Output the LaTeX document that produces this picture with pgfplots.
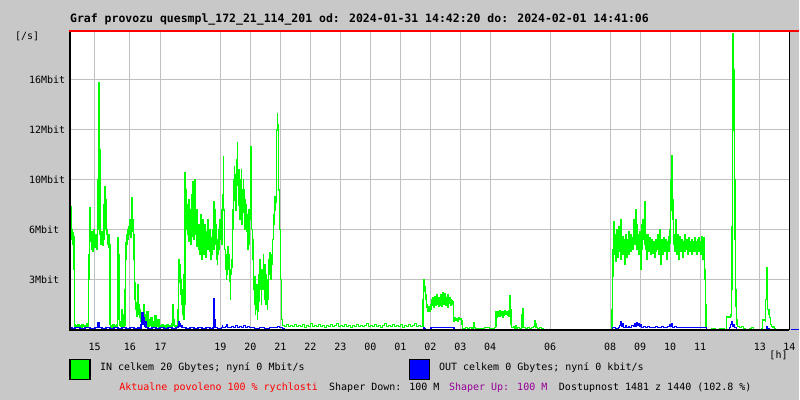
\documentclass[border=0pt]{standalone}
\usepackage{pgfplots}
\pgfplotsset{compat=1.18}
\usepackage{fontspec}
\setmainfont{DejaVu Sans Mono}
\definecolor{bggray}{RGB}{200,200,200}
\definecolor{gridgray}{RGB}{192,192,192}
\definecolor{ingreen}{RGB}{0,255,0}
\definecolor{outblue}{RGB}{0,0,255}
\definecolor{upviolet}{RGB}{150,0,150}
\begin{document}
\begin{tikzpicture}[x=1bp,y=1bp,font=\fontsize{10bp}{12bp}\selectfont]
\fill[bggray] (0,0) rectangle (800,400);
\begin{axis}[
  at={(70,70)}, anchor=south west,
  width=720bp, height=300bp, scale only axis,
  xmin=70, xmax=790, ymin=0, ymax=300,
  axis background/.style={fill=white},
  axis line style={draw=none},
  major tick length=0pt,
  xtick={94.7,130,160.7,220.7,250.7,280.7,310.7,340.7,370.7,400.7,430.7,460.7,490.7,550.7,610.7,640.7,670.7,700.7,760.7,790},
  xticklabels={15,16,17,19,20,21,22,23,00,01,02,03,04,06,08,09,10,11,13,14},
  ytick={50,100,150,200,250},
  yticklabels={3Mbit,6Mbit,10Mbit,12Mbit,16Mbit},
  xticklabel style={anchor=center, inner sep=0pt, yshift=-17.3bp, font=\fontsize{10bp}{12bp}\selectfont},
  yticklabel style={anchor=west, inner sep=0pt, xshift=-41bp, font=\fontsize{10bp}{12bp}\selectfont},
  grid=major,
  major grid style={gridgray, line width=1bp},
  clip=true,
]
\addplot[const plot, ingreen, line width=1.4bp] coordinates {
(70.5,95) (71,123) (71.5,90) (72,100) (72.5,85) (73,97) (73.5,93) (74,60) (74.5,5) (75,3) (76,4) (77,2) (78,5) (79,3) (80,4) (81,2) (82,5) (83,3) (84,4) (85,2) (86,3) (87,6) (88,3)
(88.3,5) (88.5,50) (89,75) (89.5,122) (90,100) (90.5,88) (91,95) (91.5,80) (92,98) (92.5,78) (93,88) (93.5,100) (94,92) (94.5,82) (95,90) (95.5,84) (96,95) (96.5,80) (97,88) (97.5,100)
(98,150) (98.5,247) (99,240) (99.5,180) (100,95)
(100.5,85) (101,92) (101.5,88) (102,98) (102.5,84) (103,95) (103.5,90) (104,125) (104.5,110) (105,143) (105.5,100) (106,130) (106.5,95) (107,100) (107.5,85)
(108,90) (108.5,82) (109,95) (109.5,85) (110,5)
(110.5,3) (111,4) (112,2) (113,5) (114,3) (115,4) (116,2) (117,5)
(117.5,60) (118,92) (118.5,75) (119,10)
(119.5,4) (120,8) (121,3) (122,20) (122.5,5) (123,3) (124,15) (124.5,4)
(125,40) (125.5,70) (126,87) (126.5,95) (127,85) (127.5,100) (128,90) (128.5,103) (129,95) (129.5,110) (130,100) (130.5,92) (131,105) (131.5,98) (132,132) (132.5,110) (133,103) (133.5,95)
(134,70) (134.5,47) (135,30) (135.5,20) (136,27) (136.5,13) (137,22) (137.5,15) (138,45) (138.5,25) (139,18) (139.5,12)
(140,20) (140.5,8) (141,15) (142,5) (143,10) (143.5,25) (144,8) (145,15) (146,5) (147,18) (148,3) (149,10) (150,4) (151,12) (152,3) (153,8) (154,2) (155,14) (156,4) (157,3) (158,10) (159,2) (160,4)
(161,3) (162,5) (163,2) (164,4) (165,3) (166,2) (167,5) (168,3) (169,2) (170,4) (171,3) (172,6) (173,25) (173.5,10) (174,4) (175,3) (176,2) (177,4)
(178,20) (178.5,47) (179,70) (179.5,55) (180,65) (180.5,35) (181,50) (181.5,25) (182,40) (182.5,15) (183,30) (183.5,10) (184,55) (184.5,25)
(185,157) (185.5,120) (186,140) (186.5,100) (187,125) (187.5,95) (188,115) (188.5,88) (189,130) (189.5,105) (190,110) (190.5,85) (191,120) (191.5,93) (192,135) (192.5,100) (193,148) (193.5,115) (194,90) (194.5,125) (195,150) (195.5,95) (196,110) (196.5,83) (197,120) (197.5,90) (198,100) (198.5,80) (199,105) (199.5,75)
(200,95) (200.5,115) (201,85) (201.5,70) (202,100) (202.5,80) (203,110) (203.5,88) (204,75) (204.5,95) (205,105) (205.5,82) (206,72) (206.5,98) (207,88) (207.5,110) (208,80) (208.5,95) (209,85) (209.5,100) (210,78) (210.5,92) (211,70) (211.5,86) (212,75) (212.5,90) (213,100) (213.5,80)
(214,128) (214.5,95) (215,120) (215.5,85) (216,105) (216.5,70)
(217,85) (217.5,65) (218,90) (218.5,75) (219,100) (219.5,80) (220,110) (220.5,90)
(221,95) (221.5,120) (222,85) (222.5,105) (223,135) (223.5,173) (224,120) (224.5,90)
(225,80) (225.5,60) (226,75) (226.5,50) (227,70) (227.5,55) (228,83) (228.5,60) (229,75) (229.5,48) (230,60) (230.5,30) (231,55) (231.5,70) (232,62) (232.5,80)
(233,120) (233.5,100) (234,150) (234.5,163) (235,130) (235.5,155) (236,120) (236.5,170) (237,145) (237.5,187) (238,150) (238.5,125) (239,160) (239.5,135)
(240,110) (240.5,150) (241,130) (241.5,160) (242,105) (242.5,140) (243,125) (243.5,150) (244,118) (244.5,140) (245,100) (245.5,130) (246,110) (246.5,125) (247,98) (247.5,115) (248,80) (248.5,100) (249,120) (249.5,85) (250,110) (250.5,130) (251,183) (251.5,150) (252,100)
(252.5,80) (253,70) (253.5,90)
(254,40) (254.5,25) (255,53) (255.5,15) (256,35) (256.5,20) (257,45) (257.5,10) (258,30) (258.5,18) (259,55) (259.5,28) (260,70) (260.5,40) (261,60) (261.5,25) (262,45)
(262.5,60) (263,40) (263.5,75) (264,50) (264.5,30) (265,65) (265.5,45) (266,25) (266.5,55) (267,35) (267.5,20) (268,50) (268.5,30)
(269,70) (269.5,55) (270,77) (270.5,60) (271,50) (271.5,75) (272,65) (272.5,80)
(273,90) (273.5,100) (274,115) (274.5,105) (275,133) (275.5,120) (276,128)
(276.5,160) (277,200) (277.5,216) (278,205) (278.5,175) (279,140)
(279.5,125) (280,100) (280.5,70) (281,50) (281.5,30) (282,10) (282.5,5)
(283,4) (285,3) (287,5) (289,3) (291,4) (293,3) (295,5) (297,3) (299,4) (301,3) (303,5) (305,2) (307,4) (309,3) (311,6) (313,3) (315,4) (317,3) (319,5) (321,3) (323,4) (325,2) (327,4) (329,3) (331,5) (333,3) (335,4) (337,6) (339,3) (341,4) (343,3) (345,5) (347,3) (349,4) (351,2) (353,4) (355,3) (357,5) (359,3) (361,4) (363,3) (365,4) (367,6) (369,3) (371,4) (373,3) (375,5) (377,3) (379,4) (381,2) (383,4) (385,6) (387,3) (389,4) (391,3) (393,5) (395,3) (397,4) (399,3) (401,5) (403,2) (405,4) (407,3) (409,5) (411,3) (413,4) (415,6) (417,3) (419,4) (421,3)
(423,3) (423.5,30) (424,50) (424.5,45) (425,38) (425.5,43) (426,30) (426.5,35) (427,22) (427.5,25) (428,20) (428.5,18) (429,23) (429.5,19) (430,22) (430.5,18) (431,20) (431.5,25) (432,30) (432.5,24) (433,32) (433.5,27) (434,22) (434.5,30) (435,26) (435.5,33) (436,24) (436.5,29) (437,35) (437.5,25) (438,31) (438.5,27) (439,23) (439.5,32) (440,28) (440.5,24) (441,35) (441.5,26) (442,30) (442.5,23) (443,37) (443.5,28) (444,33) (444.5,25) (445,36) (445.5,29) (446,32) (446.5,24) (447,31) (447.5,27) (448,35) (448.5,22) (449,30) (449.5,26) (450,32) (450.5,28) (451,24) (451.5,30) (452,26) (452.5,29) (453,25) (453.5,28) (454,10)
(454.5,8) (455,12) (456,9) (457,11) (458,8) (459,12) (460,10) (461,11) (462,9) (462.5,5) (463,1)
(464,1) (466,2) (468,1) (470,2) (472,1) (473.5,2) (474,7) (474.5,2) (476,1) (480,1) (485,2) (490,1) (495,2)
(496,3) (496.5,18) (497,12) (497.5,15) (498,13) (498.5,18) (499,14) (499.5,16) (500,13) (500.5,19) (501,15) (501.5,17) (502,14) (502.5,18) (503,12) (503.5,16) (504,14) (504.5,18) (505,15) (505.5,19) (506,16) (506.5,15) (507,17) (507.5,18) (508,14) (508.5,17) (509,19) (509.5,13) (510,20) (510.5,34) (511,20) (511.5,5)
(512,2) (514,3) (515,1) (516,4) (517,1) (518,2) (520,1) (522,2) (522.5,15) (523,21) (523.5,10) (524,2) (526,1) (528,2) (530,1) (532,2) (534,3) (535,9) (536,6) (536.5,2) (538,1) (540,2) (542,1) (544,0)
(546,0) (610,0)
(612,0) (612.5,20) (613,53) (613.5,80) (614,108) (614.5,90) (615,75) (615.5,95) (616,68) (616.5,88) (617,80) (617.5,100) (618,72) (618.5,92) (619,85) (619.5,103) (620,78) (620.5,90) (621,70) (621.5,110) (622,82) (622.5,88) (623,75) (623.5,93) (624,80) (624.5,85) (625,65) (625.5,90) (626,78) (626.5,95) (627,85) (627.5,72) (628,90) (628.5,80) (629,98) (629.5,75) (630,88) (630.5,83) (631,95) (631.5,78) (632,86) (632.5,92) (633,80) (633.5,88) (634,110) (634.5,95) (635,105) (635.5,85) (636,100) (636.5,120) (637,105) (637.5,80) (638,95) (638.5,88) (639,75) (639.5,92) (640,85) (640.5,98) (641,60) (641.5,90) (642,80) (642.5,105) (643,95) (643.5,110) (644,100) (644.5,90) (645,128) (645.5,85) (646,95) (646.5,80) (647,92) (647.5,70) (648,88) (648.5,95) (649,78) (649.5,85) (650,92) (650.5,80) (651,75) (651.5,88) (652,82) (652.5,90) (653,76) (653.5,86) (654,80) (654.5,88) (655,72) (655.5,84) (656,90) (656.5,78) (657,85) (657.5,80) (658,95) (658.5,83) (659,75) (659.5,88) (660,82) (660.5,100) (661,85) (661.5,65) (662,90) (662.5,80) (663,88) (663.5,75) (664,92) (664.5,83) (665,78) (665.5,86) (666,90) (666.5,80) (667,85) (667.5,70) (668,88) (668.5,82) (669,93) (669.5,78) (670,86) (670.5,100) (671,120) (671.5,150) (672,174) (672.5,160) (673,130) (673.5,110) (674,85) (674.5,95) (675,78) (675.5,90) (676,82) (676.5,110) (677,88) (677.5,75) (678,95) (678.5,80) (679,70) (679.5,88) (680,83) (680.5,93) (681,78) (681.5,86) (682,90) (682.5,80) (683,85) (683.5,72) (684,88) (684.5,82) (685,95) (685.5,78) (686,86) (686.5,80) (687,90) (687.5,83) (688,75) (688.5,88) (689,82) (689.5,92) (690,78) (690.5,85) (691,80) (691.5,88) (692,75) (692.5,90) (693,83) (693.5,78) (694,88) (694.5,82) (695,92) (695.5,78) (696,86) (696.5,80) (697,88) (697.5,75) (698,90) (698.5,82) (699,78) (699.5,92) (700,80) (700.5,86) (701,75) (701.5,88) (702,93) (702.5,80) (703,70) (703.5,88) (704,92) (704.5,75) (705,60) (705.5,50) (706,25) (706.5,3) (707,0)
(708,0) (712,1) (716,0) (720,1) (725,0) (726.5,0) (727,13) (728,12) (729,13) (730,12) (731,13) (731.5,15) (732,40) (732.5,103) (733,227) (733.5,296) (734,260) (734.5,200) (735,150) (735.5,90) (736,40) (736.5,23) (737,10) (737.5,5) (738,3) (740,2) (742,3) (744,1) (746,0) (750,1) (752,2) (754,0)
(760,0) (762,1) (763,10) (764,9) (765,10) (766,8) (766.5,30) (767,45) (767.5,62) (768,40) (768.5,20) (769,15) (769.5,20) (770,12) (771,5) (772,3) (773,2) (774,3) (775,1) (776,0) (778,0)
};
\addplot[const plot, outblue, line width=1.4bp] coordinates {
(70,2) (72,1) (75,2) (80,1) (85,2) (90,1) (95,2) (97.5,2) (98,7) (98.5,7) (99,2) (102,1) (106,2) (110,1) (114,2) (118,1) (122,2) (126,1) (130,2) (134,1) (138,2) (140,1) (141,5) (142,17) (142.5,10) (143,17) (143.5,5) (144,12) (144.5,3) (145,8) (146,2) (148,1) (152,2) (156,1) (160,2) (164,1) (168,2) (172,1) (176,2) (178,3) (179,8) (179.5,5) (180,6) (180.5,3) (181,4) (182,2) (186,1) (190,2) (194,1) (198,2) (202,1) (206,2) (210,1) (213,2) (213.5,31) (214,31) (214.5,10) (215,2) (218,1) (222,2) (222.5,4) (223,2) (226,3) (227,5) (228,2) (232,3) (234,2) (236,4) (238,2) (240,3) (242,2) (244,4) (246,2) (248,3) (250,2) (255,1) (260,2) (265,1) (270,2) (275,2) (278,3) (280,2) (283,1) (285,0)
(420,0) (423,0) (424,2) (425,1) (426,0) (431,0) (431.5,2) (454,2) (454.5,0)
(612,0) (613,2) (616,1) (619,2) (620,4) (621,8) (621.5,5) (622,3) (623,6) (624,2) (626,4) (627,2) (629,3) (630,2) (632,4) (634,3) (635,6) (636,3) (637,7) (638,4) (639,6) (640,3) (641,5) (642,2) (644,3) (646,2) (648,3) (650,2) (652,2) (654,2) (656,3) (658,2) (660,2) (662,3) (664,2) (666,2) (668,3) (670,5) (671,3) (672,6) (673,2) (675,3) (677,2) (680,2) (685,2) (690,2) (695,2) (700,2) (705,2) (707,0)
(727,0) (730,2) (731,5) (732,8) (733,3) (734,5) (735,2) (737,0)
(765,0) (767,3) (768,1) (770,0) (790,0)
};
\end{axis}
% frame
\draw[black, line width=2bp] (70,369) -- (70,70) -- (790,70);
\draw[black, line width=1.2bp] (790,70) -- (790,370);
\draw[red, line width=1.5bp] (69,369) -- (800,369);
\draw[outblue, line width=1.2bp] (792,70) -- (800,70);
% texts
\node[anchor=base west, inner sep=0pt, font=\fontsize{11.5bp}{13bp}\selectfont\bfseries] at (70,377.5) {Graf provozu quesmpl\_172\_21\_114\_201 od: 2024-01-31 14:42:20 do: 2024-02-01 14:41:06};
\node[anchor=base west, inner sep=0pt] at (15,360) {[/s]};
\node[anchor=base west, inner sep=0pt] at (770,41.5) {[h]};
\draw[black, line width=1.5bp, fill=ingreen] (70,20) rectangle (90,40);
\draw[black, line width=1.5bp, fill=outblue] (410,20) rectangle (430,40);
\node[anchor=base west, inner sep=0pt] at (100,29.5) {IN celkem 20 Gbytes; nyní 0 Mbit/s};
\node[anchor=base west, inner sep=0pt] at (439.3,29.5) {OUT celkem 0 Gbytes; nyní 0 kbit/s};
\node[anchor=base west, inner sep=0pt, text=red] at (119.3,9.5) {Aktualne povoleno 100 \% rychlosti};
\node[anchor=base west, inner sep=0pt] at (329.3,9.5) {Shaper Down: 100 M};
\node[anchor=base west, inner sep=0pt, text=upviolet] at (449.3,9.5) {Shaper Up: 100 M};
\node[anchor=base west, inner sep=0pt] at (559.3,9.5) {Dostupnost 1481 z 1440 (102.8 \%)};
\end{tikzpicture}
\end{document}
